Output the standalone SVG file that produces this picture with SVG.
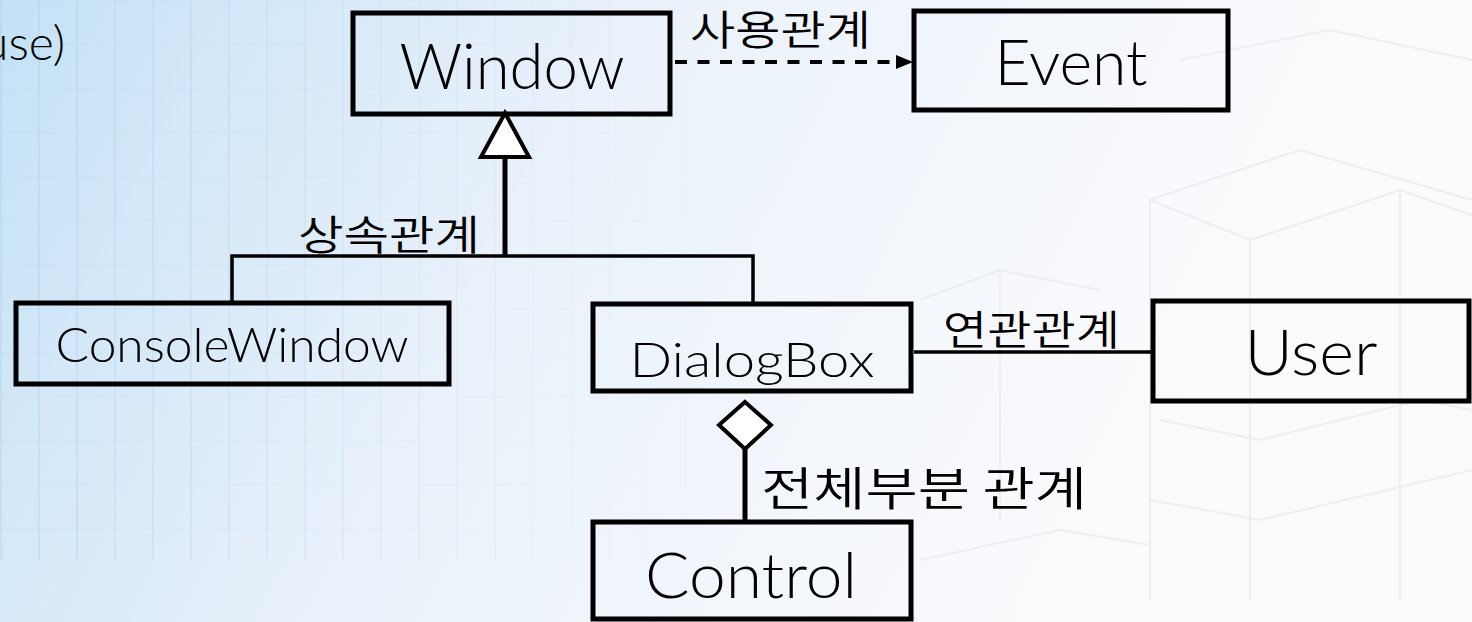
<svg xmlns="http://www.w3.org/2000/svg" width="1472" height="622" viewBox="0 0 1472 622">
  <defs>
    <linearGradient id="bg" gradientUnits="userSpaceOnUse" x1="0" y1="0" x2="1100" y2="560">
      <stop offset="0" stop-color="#c4e1f6"/>
      <stop offset="0.45" stop-color="#e9f1fa"/>
      <stop offset="1" stop-color="#fbfbfd"/>
    </linearGradient>
    <linearGradient id="fade" gradientUnits="userSpaceOnUse" x1="0" y1="0" x2="700" y2="0">
      <stop offset="0" stop-color="#ffffff" stop-opacity="1"/>
      <stop offset="1" stop-color="#ffffff" stop-opacity="0"/>
    </linearGradient>
    <mask id="gridMask">
      <rect x="0" y="0" width="1472" height="622" fill="url(#fade)"/>
    </mask>
    <pattern id="grid" width="38" height="44" patternUnits="userSpaceOnUse">
      <line x1="1" y1="0" x2="1" y2="44" stroke="#a9cbe6" stroke-width="2" stroke-opacity="0.3"/>
      <line x1="0" y1="1" x2="38" y2="1" stroke="#a9cbe6" stroke-width="1" stroke-opacity="0.15"/>
    </pattern>
  </defs>
  <style>
    .box { fill: none; stroke: #000; stroke-width: 5; }
    .lat { font-family: Lato, "Liberation Sans", "Noto Sans CJK KR", sans-serif; font-weight: 300; fill: #000; text-anchor: middle; }
    .big { font-size: 64px; }
    .mid { font-size: 48px; }
    .kor { font-family: "Noto Sans CJK KR", "Noto Sans", sans-serif; font-weight: 350; font-size: 41px; fill: #000; }
    .ln { stroke: #000; fill: none; }
    .deco { stroke: #e3e5ea; stroke-width: 2; fill: none; opacity: 0.55; }
  </style>

  <!-- background -->
  <rect x="0" y="0" width="1472" height="622" fill="url(#bg)"/>
  <rect x="0" y="0" width="1472" height="560" fill="url(#grid)" mask="url(#gridMask)"/>
  <g id="decoration">
    <polyline class="deco" points="1150,200 1300,150 1472,200"/>
    <polyline class="deco" points="1150,200 1150,600"/>
    <polyline class="deco" points="1250,240 1250,600"/>
    <polyline class="deco" points="1150,200 1250,240 1400,190 1472,215"/>
    <polyline class="deco" points="1400,190 1400,600"/>
    <polyline class="deco" points="1160,420 1260,440 1420,400 1472,410"/>
    <polyline class="deco" points="1150,500 1260,520 1472,470"/>
    <polyline class="deco" points="920,300 1000,270 1100,290"/>
    <polyline class="deco" points="1000,270 1000,520"/>
    <polyline class="deco" points="920,560 1060,530 1150,545"/>
    <polyline class="deco" points="1180,60 1330,30 1472,60"/>
  </g>

  <!-- cut-off text at top-left -->
  <text x="-18" y="60" class="lat" style="text-anchor:start;font-size:48px">use)</text>

  <g id="connectors">
    <!-- dependency Window -> Event -->
    <line class="ln" x1="675" y1="62" x2="897" y2="62" stroke-width="4" stroke-dasharray="12 10.5"/>
    <polygon points="896,55 913,62 896,69" fill="#000"/>
    <!-- inheritance -->
    <polygon points="505,113 481,157 529,157" fill="#fff" stroke="#000" stroke-width="4" stroke-linejoin="miter"/>
    <line class="ln" x1="505" y1="157" x2="505" y2="256" stroke-width="5"/>
    <polyline class="ln" points="232,301 232,256 753,256 753,302" stroke-width="3.5"/>
    <!-- association DialogBox - User -->
    <line class="ln" x1="914" y1="352" x2="1153" y2="352" stroke-width="3.5"/>
    <!-- aggregation DialogBox <>- Control -->
    <polygon points="745,402 771,425 745,449 719,425" fill="#fff" stroke="#000" stroke-width="4"/>
    <line class="ln" x1="745" y1="449" x2="745" y2="522" stroke-width="5"/>
    <!-- labels -->
    <text class="kor" x="690" y="45" textLength="181" lengthAdjust="spacingAndGlyphs">사용관계</text>
    <text class="kor" x="298" y="250" textLength="182" lengthAdjust="spacingAndGlyphs">상속관계</text>
    <text class="kor" x="943" y="345" textLength="177" lengthAdjust="spacingAndGlyphs">연관관계</text>
    <text class="kor" x="761" y="505" style="font-size:46px" textLength="326" lengthAdjust="spacingAndGlyphs">전체부분 관계</text>
  </g>

  <g id="node-window">
    <rect class="box" x="353" y="13" width="317" height="101"/>
    <text class="lat big" x="512" y="89" textLength="225" lengthAdjust="spacingAndGlyphs">Window</text>
  </g>
  <g id="node-event">
    <rect class="box" x="914" y="11" width="314" height="99"/>
    <text class="lat big" x="1071" y="85" textLength="153" lengthAdjust="spacingAndGlyphs">Event</text>
  </g>
  <g id="node-consolewindow">
    <rect class="box" x="16" y="303" width="433" height="81"/>
    <text class="lat mid" x="232" y="362" textLength="353" lengthAdjust="spacingAndGlyphs">ConsoleWindow</text>
  </g>
  <g id="node-dialogbox">
    <rect class="box" x="593" y="304" width="318" height="87"/>
    <text class="lat mid" x="752" y="377" textLength="245" lengthAdjust="spacingAndGlyphs">DialogBox</text>
  </g>
  <g id="node-user">
    <rect class="box" x="1153" y="301" width="316" height="100"/>
    <text class="lat big" x="1311" y="375" textLength="133" lengthAdjust="spacingAndGlyphs">User</text>
  </g>
  <g id="node-control">
    <rect class="box" x="593" y="522" width="318" height="97"/>
    <text class="lat big" x="751" y="598" textLength="212" lengthAdjust="spacingAndGlyphs">Control</text>
  </g>
</svg>
